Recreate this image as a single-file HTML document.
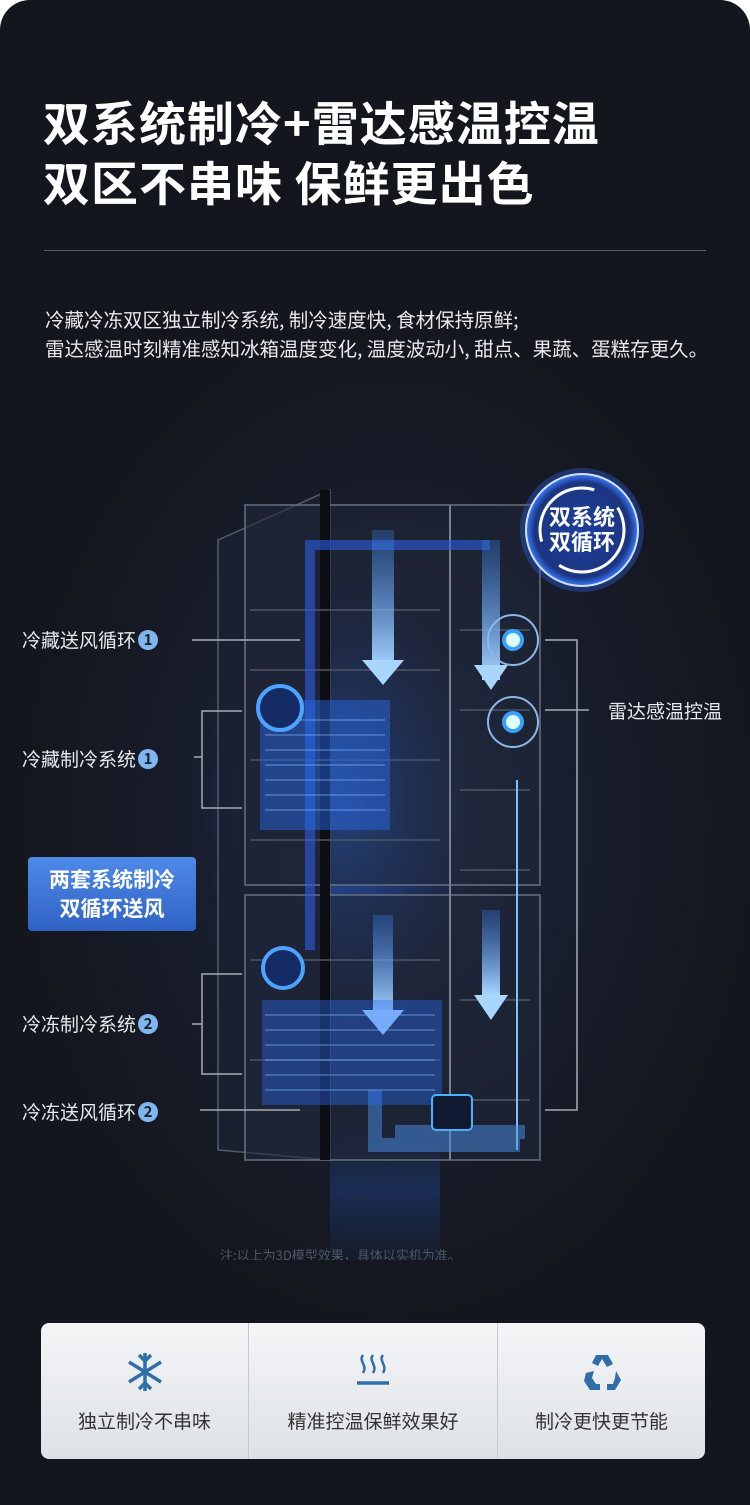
<!DOCTYPE html>
<html><head><meta charset="utf-8"><style>
*{margin:0;padding:0;box-sizing:border-box}
body{width:750px;height:1505px;background:#fff;font-family:"Liberation Sans","Noto Sans CJK SC",sans-serif;overflow:hidden}
#p{position:absolute;left:0;top:0;width:750px;height:1505px;border-radius:30px 30px 0 0;background:radial-gradient(ellipse 380px 520px at 390px 820px,#1f2a44 0%,#181d2b 55%,#14161d 100%);overflow:hidden}
.t{position:absolute;color:#fff;font-weight:bold;font-size:47px;left:43px;letter-spacing:1px;white-space:nowrap;font-family:"Noto Sans CJK SC",sans-serif}
.d{position:absolute;color:#e8e8ea;font-size:19.5px;left:45px;white-space:nowrap;font-family:"Noto Sans CJK SC",sans-serif}
.l{position:absolute;color:#e6e8ee;font-size:19px;white-space:nowrap;font-family:"Noto Sans CJK SC",sans-serif}
.n{display:inline-block;width:20px;height:20px;border-radius:50%;background:#7fb6ee;color:#123;font-size:15px;text-align:center;line-height:20px;font-weight:bold;vertical-align:2px;margin-left:2px}
.card{position:absolute;left:41px;top:1323px;width:664px;height:136px;border-radius:8px;background:linear-gradient(#f4f5f7,#dde1e6);display:flex}
.c{text-align:center;color:#333;font-size:19px;font-family:"Noto Sans CJK SC",sans-serif;padding-top:28px;border-right:1px solid #c5cad2}
.c:last-child{border-right:none}
.c svg{display:block;margin:0 auto 14px}
</style></head><body><div id="p">
<div class="t" style="top:86px">双系统制冷+雷达感温控温</div>
<div class="t" style="top:146px">双区不串味 保鲜更出色</div>
<div style="position:absolute;left:44px;top:250px;width:662px;height:1px;background:#5a5e68"></div>
<div class="d" style="top:304px">冷藏冷冻双区独立制冷系统, 制冷速度快, 食材保持原鲜;</div>
<div class="d" style="top:333px">雷达感温时刻精准感知冰箱温度变化, 温度波动小, 甜点、果蔬、蛋糕存更久。</div>

<svg style="position:absolute;left:0;top:460px" width="750" height="800">
<defs>
<radialGradient id="g" cx="0.5" cy="0.5" r="0.5"><stop offset="0" stop-color="#2f7bff" stop-opacity=".7"/><stop offset="1" stop-color="#1a3c9a" stop-opacity="0"/></radialGradient>
<linearGradient id="ar" x1="0" y1="0" x2="0" y2="1"><stop offset="0" stop-color="#3a7fe8" stop-opacity=".3"/><stop offset="1" stop-color="#a9d6ff"/></linearGradient>
<linearGradient id="gl" x1="0" y1="0" x2="0" y2="1"><stop offset="0" stop-color="#1f3f80" stop-opacity="0"/><stop offset=".5" stop-color="#1f3f80" stop-opacity=".5"/><stop offset="1" stop-color="#1f3f80" stop-opacity="0"/></linearGradient>
<radialGradient id="b" cx=".5" cy=".5" r=".5"><stop offset="0" stop-color="#1d3f9e"/><stop offset=".85" stop-color="#1b3580"/><stop offset="1" stop-color="#3b7cff"/></radialGradient>
</defs>
<ellipse cx="340" cy="340" rx="140" ry="230" fill="url(#g)"/>
<rect x="330" y="650" width="110" height="160" fill="url(#gl)"/>
<polygon points="218,80 330,30 330,700 218,690" fill="#1b2030" stroke="#5b6272" stroke-width="1.5" opacity=".9"/>
<rect x="245" y="45" width="295" height="380" fill="#20283a" fill-opacity=".55" stroke="#6a7080" stroke-width="1.5"/>
<rect x="245" y="435" width="295" height="265" fill="#20283a" fill-opacity=".55" stroke="#6a7080" stroke-width="1.5"/>
<rect x="320" y="30" width="10" height="670" fill="#0c0e14"/>
<line x1="450" y1="45" x2="450" y2="700" stroke="#7a8090" stroke-width="2"/>
<g stroke="#4d5566" stroke-width="1.5" fill="none">
<path d="M250 150h190M250 210h190M250 300h190M250 380h190M460 170h70M460 250h70M460 330h70M460 410h70M250 500h190M250 600h190M460 540h70M460 640h70"/>
</g>
<path d="M305 80h185v10h-175v400h-10z" fill="#2b5de0" opacity=".6"/>
<rect x="372" y="70" width="22" height="140" fill="url(#ar)"/>
<polygon points="362,200 404,200 383,225" fill="#a9d6ff"/>
<rect x="482" y="80" width="18" height="140" fill="url(#ar)"/>
<polygon points="474,205 508,205 491,230" fill="#a9d6ff"/>
<rect x="373" y="455" width="20" height="100" fill="url(#ar)"/>
<polygon points="362,550 404,550 383,575" fill="#a9d6ff"/>
<rect x="482" y="450" width="18" height="85" fill="url(#ar)"/>
<polygon points="474,535 508,535 491,560" fill="#a9d6ff"/>
<line x1="517" y1="320" x2="517" y2="690" stroke="#7cc0ff" stroke-width="2"/>
<path d="M375 630v55h145M395 672h130" stroke="#4a8ee8" stroke-width="14" fill="none" opacity=".5"/>
<rect x="260" y="240" width="130" height="130" fill="#2a6cf0" opacity=".45"/>
<g stroke="#7fb4ff" stroke-width="1" opacity=".7"><path d="M265 260h120M265 275h120M265 290h120M265 305h120M265 320h120M265 335h120M265 350h120"/></g>
<rect x="262" y="540" width="180" height="105" fill="#2a6cf0" opacity=".4"/>
<g stroke="#7fb4ff" stroke-width="1" opacity=".7"><path d="M265 555h170M265 570h170M265 585h170M265 600h170M265 615h170M265 630h170"/></g>
<circle cx="280" cy="248" r="22" fill="#142b66" stroke="#4da3ff" stroke-width="4"/>
<circle cx="283" cy="508" r="20" fill="#142b66" stroke="#4da3ff" stroke-width="4"/>
<circle cx="513" cy="180" r="25" fill="none" stroke="#8fb6e8" stroke-width="2"/><circle cx="513" cy="180" r="9" fill="#dff" stroke="#3aa0ff" stroke-width="4"/>
<circle cx="513" cy="262" r="25" fill="none" stroke="#8fb6e8" stroke-width="2"/><circle cx="513" cy="262" r="9" fill="#dff" stroke="#3aa0ff" stroke-width="4"/>
<rect x="432" y="635" width="40" height="35" rx="4" fill="#0f1a30" stroke="#4ab0ff" stroke-width="2"/>
<circle cx="582" cy="70" r="62" fill="#2a5cd8" opacity=".4"/>
<circle cx="582" cy="70" r="56" fill="url(#b)" stroke="#cfe0ff" stroke-width="2"/>
<circle cx="582" cy="70" r="42" fill="none" stroke="#fff" stroke-width="3" stroke-dasharray="90 30"/>
<text x="582" y="65" fill="#fff" font-size="22" font-weight="bold" text-anchor="middle" font-family="Noto Sans CJK SC">双系统</text>
<text x="582" y="90" fill="#fff" font-size="22" font-weight="bold" text-anchor="middle" font-family="Noto Sans CJK SC">双循环</text>
<g stroke="#a7abb4" stroke-width="1.5" fill="none">
<path d="M192 180h108M194 297h8v-46h40M202 297v51h40M192 564h10v-50h40M202 564v50h40M200 650h100M545 180h32v470h-32M577 250h-32M577 250h12"/>
</g>
<text x="220" y="800" fill="#4d5668" font-size="13" font-family="Noto Sans CJK SC">注:以上为3D模型效果，具体以实机为准。</text>
</svg>

<div class="l" style="left:22px;top:626px">冷藏送风循环<span class="n">1</span></div>
<div class="l" style="left:22px;top:745px">冷藏制冷系统<span class="n">1</span></div>
<div style="position:absolute;left:28px;top:857px;width:168px;height:74px;border-radius:4px;background:linear-gradient(#4f8ae8,#2f62c4);color:#fff;font-weight:bold;font-size:21px;text-align:center;line-height:29px;padding-top:8px;font-family:'Noto Sans CJK SC',sans-serif">两套系统制冷<br>双循环送风</div>
<div class="l" style="left:22px;top:1010px">冷冻制冷系统<span class="n">2</span></div>
<div class="l" style="left:22px;top:1098px">冷冻送风循环<span class="n">2</span></div>
<div class="l" style="left:608px;top:697px">雷达感温控温</div>

<div class="card">
<div class="c" style="width:208px"><svg width="40" height="42" viewBox="0 0 40 42"><g stroke="#2f6ea8" stroke-width="3.5" fill="none"><path d="M20 2v38M4 11l32 20M4 31l32-20M14 4l6 6 6-6M14 38l6-6 6 6"/></g></svg>独立制冷不串味</div>
<div class="c" style="width:249px"><svg width="40" height="42" viewBox="0 0 40 42"><g stroke="#2f6ea8" stroke-width="2.5" fill="none"><path d="M10 4c-5 6 5 10 0 18M20 4c-5 6 5 10 0 18M30 4c-5 6 5 10 0 18"/><path d="M4 32h32" stroke-width="3.5"/></g></svg>精准控温保鲜效果好</div>
<div class="c" style="width:207px"><svg width="40" height="42" viewBox="0 0 40 42"><g fill="#2f6ea8"><path d="M14 4h12l5 9-6 3-5-8-4 7-6-3z"/><path d="M34 20l5 9-6 10h-8v-6h6l2-6z"/><path d="M4 22l8-2-2 7 4 6h4v6H8L2 30z"/></g></svg>制冷更快更节能</div>
</div>
</div></body></html>
